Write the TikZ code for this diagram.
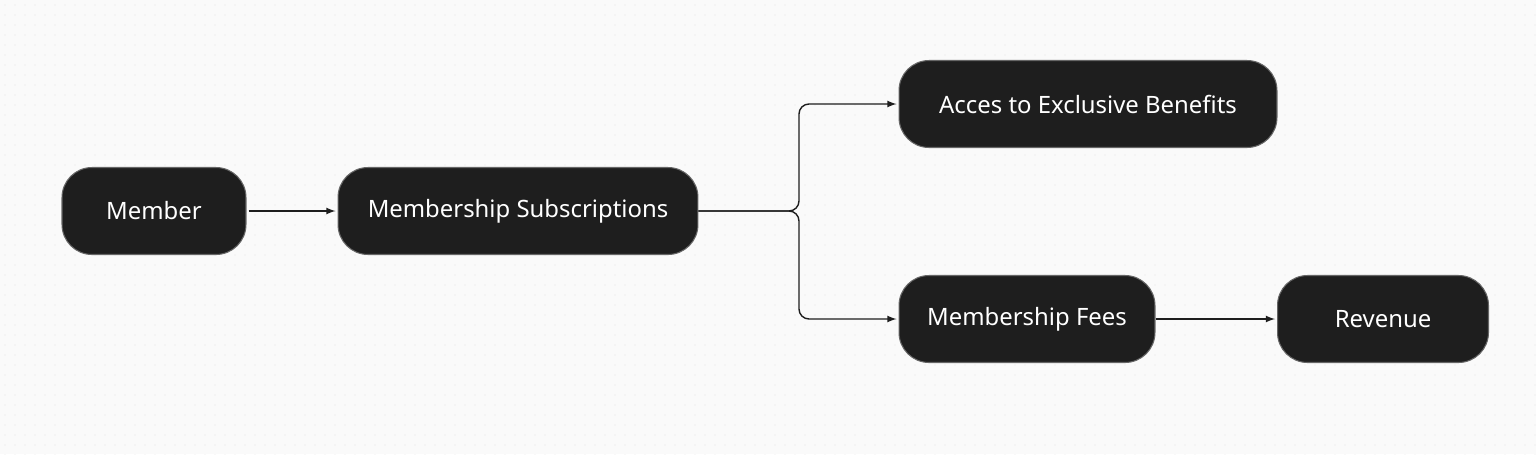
\documentclass[tikz,border=0pt]{standalone}
\usepackage{fontspec}
\setmainfont{Noto Sans}
\usetikzlibrary{arrows, positioning, calc}
\definecolor{boxfill}{HTML}{1E1E1E}
\definecolor{dotgray}{HTML}{E2E2E2}
\tikzset{
  flowbox/.style={draw=black!60,line width=0.6pt,fill=boxfill,text=white,rounded corners=0.6cm,
    minimum height=1.74cm,inner sep=0pt,font=\fontsize{13.6}{16}\selectfont},
  flowline/.style={->,line width=0.8pt,draw=boxfill},
}
\begin{document}
\begin{tikzpicture}[x=0.02cm,y=-0.02cm]
    \tikzset{>=latex}
    \fill[white!98!black] (0,0) rectangle (1536,454);
    \useasboundingbox (0,0) rectangle (1536,454);
    % dotted canvas
    \foreach \i in {0,...,153}
      \foreach \j in {0,...,45}
        \fill[dotgray] (\i*10+5,\j*10+5) circle (0.6);

    \node[flowbox,minimum width=3.68cm] (member) at (154,211) {Member};
    \node[flowbox,minimum width=7.2cm] (subs) at (518,211) {Membership Subscriptions};
    \node[flowbox,minimum width=7.56cm] (bene) at (1088,104) {Acces to Exclusive Benefits};
    \node[flowbox,minimum width=5.12cm] (fees) at (1027,319) {Membership Fees};
    \node[flowbox,minimum width=4.22cm] (rev) at (1383,319) {Revenue};

    \coordinate (split) at (799,211);
    \draw[flowline] (member.east) ++(2,0) -- ($(subs.west)+(-2,0)$);
    \draw[flowline,rounded corners=0.2cm] (subs.east) -- (split) |- ($(bene.west)+(-2,0)$);
    \draw[flowline,rounded corners=0.2cm] (subs.east) -- (split) |- ($(fees.west)+(-2,0)$);
    \draw[flowline] (fees.east) -- ($(rev.west)+(-2,0)$);
  \end{tikzpicture}
\end{document}
